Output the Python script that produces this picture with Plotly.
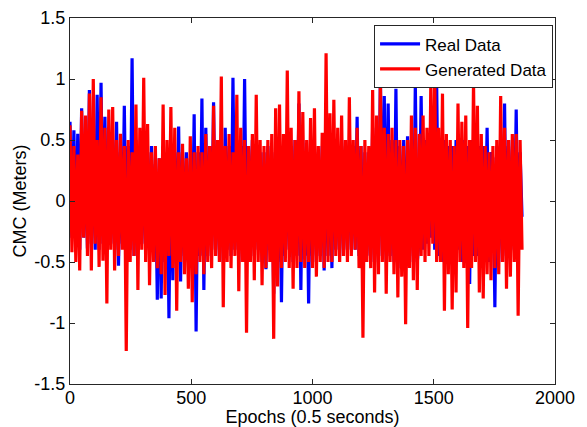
import numpy as np
import plotly.graph_objects as go

# Values (one sample every 8 epochs)
real_data = [
    0.65, -0.3, 0.58, -0.35, 0.55, -0.4, 0.76, -0.3, 0.5, -0.39,
    0.91, -0.35, 0.5, -0.4, 0.87, -0.4, 0.97, -0.35, 0.69, -0.4,
    0.45, -0.35, 0.5, -0.4, 0.65, -0.53, 0.4, -0.35, 0.78, -0.4,
    0.45, -0.4, 1.17, -0.45, 0.5, -0.4, 0.45, -0.35, 0.5, -0.4,
    0.4, -0.4, 0.45, -0.35, 0.3, -0.81, 0.35, -0.8, 0.45, -0.5,
    0.4, -0.96, 0.45, -0.65, 0.4, -0.5, 0.61, -0.66, 0.4, -0.45,
    0.4, -0.5, 0.35, -0.45, 0.71, -1.07, 0.4, -0.45, 0.84, -0.73,
    0.6, -0.45, 0.45, -0.4, 0.81, -0.4, 0.45, -0.45, 0.5, -0.5,
    0.6, -0.4, 0.45, -0.45, 1.01, -0.4, 0.5, -0.5, 0.45, -0.4,
    1.0, -0.5, 0.45, -0.4, 0.5, -0.45, 0.45, -0.4, 0.4, -0.5,
    0.4, -0.56, 0.45, -0.4, 0.4, -0.76, 0.45, -0.5, 0.4, -0.83,
    0.45, -0.45, 0.5, -0.4, 0.45, -0.5, 0.5, -0.45, 0.8, -0.73,
    0.5, -0.45, 0.4, -0.84, 0.5, -0.45, 0.45, -0.5, 0.4, -0.45,
    0.45, -0.57, 0.5, -0.45, 0.45, -0.55, 0.5, -0.4, 0.45, -0.45,
    0.5, -0.4, 0.45, -0.4, 0.5, -0.4, 0.45, -0.4, 0.69, -0.45,
    0.45, -0.5, 0.4, -0.45, 0.4, -0.5, 0.6, -0.5, 0.55, -0.45,
    1.02, -0.45, 0.86, -0.5, 0.8, -0.45, 0.5, -0.5, 0.92, -0.55,
    0.45, -0.5, 0.5, -0.55, 0.53, -0.45, 0.5, -0.5, 0.96, -0.5,
    -0.3, 0.86, -0.4, 0.5, -0.35, 0.5, -0.3, 0.55, -0.4, 0.96,
    -0.45, 0.5, -0.5, 0.5, -0.45, 0.45, -0.5, 0.45, -0.45, 0.5,
    -0.4, 0.45, -0.5, 0.5, -0.45, 0.45, -0.68, 0.5, -0.45, 0.5,
    -0.45, 0.45, -0.5, 0.45, -0.4, 0.6, -0.5, 0.4, 0.35, -0.87,
    0.45, -0.5, 0.4, -0.45, 0.8, -0.5, 0.45, -0.45, 0.5, -0.4,
    0.75, -0.5, 0.4, -0.13,
]

generated_data = [
    0.62, -0.42, 0.45, -0.5, 0.38, -0.57, 0.74, -0.3, 0.7, -0.45,
    0.88, -0.57, 1.0, -0.35, 0.5, -0.54, 0.85, -0.49, 0.6, -0.84,
    0.75, -0.4, 0.77, -0.57, 0.5, -0.45, 0.55, -0.4, 0.45, -1.23,
    0.5, -0.5, 0.4, -0.45, 0.79, -0.73, 0.6, -0.4, 1.01, -0.5,
    0.63, -0.69, 0.4, -0.5, 0.45, -0.55, 0.35, -0.6, 0.79, -0.77,
    0.5, -0.45, 0.77, -0.55, 0.6, -0.9, 0.4, -0.5, 0.47, -0.6,
    0.35, -0.72, 0.53, -0.83, 0.4, -0.6, 0.45, -0.5, 0.4, -0.6,
    0.55, -0.5, 0.45, -0.55, 0.78, -0.45, 0.5, -0.5, 1.02, -0.87,
    0.45, -0.5, 0.55, -0.55, 0.4, -0.45, 0.87, -0.74, 0.6, -0.5,
    0.5, -1.08, 0.45, -0.5, 0.55, -0.65, 0.87, -0.5, 0.5, -0.69,
    0.45, -0.55, 0.5, -0.5, 0.55, -1.13, 0.76, -0.7, 0.79, -0.55,
    0.55, -0.5, 1.07, -0.55, 0.6, -0.72, 0.5, -0.55, 0.9, -0.5,
    0.73, -0.55, 0.5, -0.5, 0.68, -0.55, 0.76, -0.62, 0.45, -0.5,
    0.56, -0.55, 1.21, -0.5, 0.72, -0.5, 0.83, -0.45, 0.6, -0.5,
    0.7, -0.45, 0.5, -0.5, 0.85, -0.45, 0.5, -0.4, 0.6, -0.55,
    0.45, -1.12, 0.5, -0.5, 0.45, -0.55, 0.91, -0.75, 0.7, -0.6,
    1.0, -0.5, 0.6, -0.76, 0.55, -0.5, 0.6, -0.6, 0.5, -0.79,
    0.5, -0.62, 0.45, -1.01, 0.5, -0.55, 0.7, -0.65, 0.6, -0.73,
    0.55, -0.45, 0.7, -0.5, 0.6, -0.45, 0.98, -0.35, 1.05, -0.5,
    0.6, -0.5, 0.88, -0.9, 0.55, -0.6, 0.5, -0.89, 0.45, -0.75,
    0.8, -0.5, 0.65, -0.55, 0.7, -1.04, 0.5, -0.55, 0.98, -0.5,
    0.78, -0.75, 0.55, -0.8, 0.45, -0.6, 0.4, -0.65, 0.45, -0.55,
    0.5, -0.6, 0.86, -0.5, 0.6, -0.72, 0.5, -0.62, 0.55, -0.5,
    0.55, -0.94, 0.5, -0.4,
]

epoch_step = 8
epochs = [i * epoch_step for i in range(len(real_data))]

x_ticks = [0, 500, 1000, 1500, 2000]
x_tick_labels = ["0", "500", "1000", "1500", "2000"]
y_ticks = [-1.5, -1, -0.5, 0, 0.5, 1, 1.5]
y_tick_labels = ["-1.5", "-1", "-0.5", "0", "0.5", "1", "1.5"]

font_family = "Liberation Sans, Arial, sans-serif"

fig = go.Figure()
fig.add_trace(go.Scatter(x=epochs, y=real_data, mode="lines", name="Real Data",
                         line=dict(color="#0000FF", width=3.2)))
fig.add_trace(go.Scatter(x=epochs, y=generated_data, mode="lines", name="Generated Data",
                         line=dict(color="#FF0000", width=3.2)))

axis_common = dict(showgrid=False, zeroline=False, showline=True, mirror="ticks",
                   linecolor="#262626", linewidth=1, ticks="inside", ticklen=5,
                   tickcolor="#262626", tickfont=dict(size=18, color="#000000", family=font_family))

fig.update_xaxes(range=[0, 2000], tickvals=x_ticks, ticktext=x_tick_labels,
                 ticklabelstandoff=-3,
                 title=dict(text="Epochs (0.5 seconds)", font=dict(size=18, color="#000000", family=font_family), standoff=0),
                 **axis_common)
fig.update_yaxes(range=[-1.5, 1.5], tickvals=y_ticks, ticktext=y_tick_labels,
                 title=dict(text="CMC (Meters)", font=dict(size=18, color="#000000", family=font_family), standoff=3),
                 **axis_common)

# The page body adds an 8 px offset, so the figure is 8 px smaller and margins shifted.
fig.update_layout(
    width=579, height=419,
    margin=dict(l=62, r=32, t=10, b=43, autoexpand=False),
    paper_bgcolor="white", plot_bgcolor="white",
    font=dict(family=font_family, size=18, color="#000000"),
    showlegend=True,
    legend=dict(x=0.996, y=0.98, xanchor="right", yanchor="top",
                bgcolor="white", bordercolor="#262626", borderwidth=1,
                font=dict(size=17, family=font_family), itemwidth=40,
                tracegroupgap=0, traceorder="normal"),
)

fig.write_html("out.html")
